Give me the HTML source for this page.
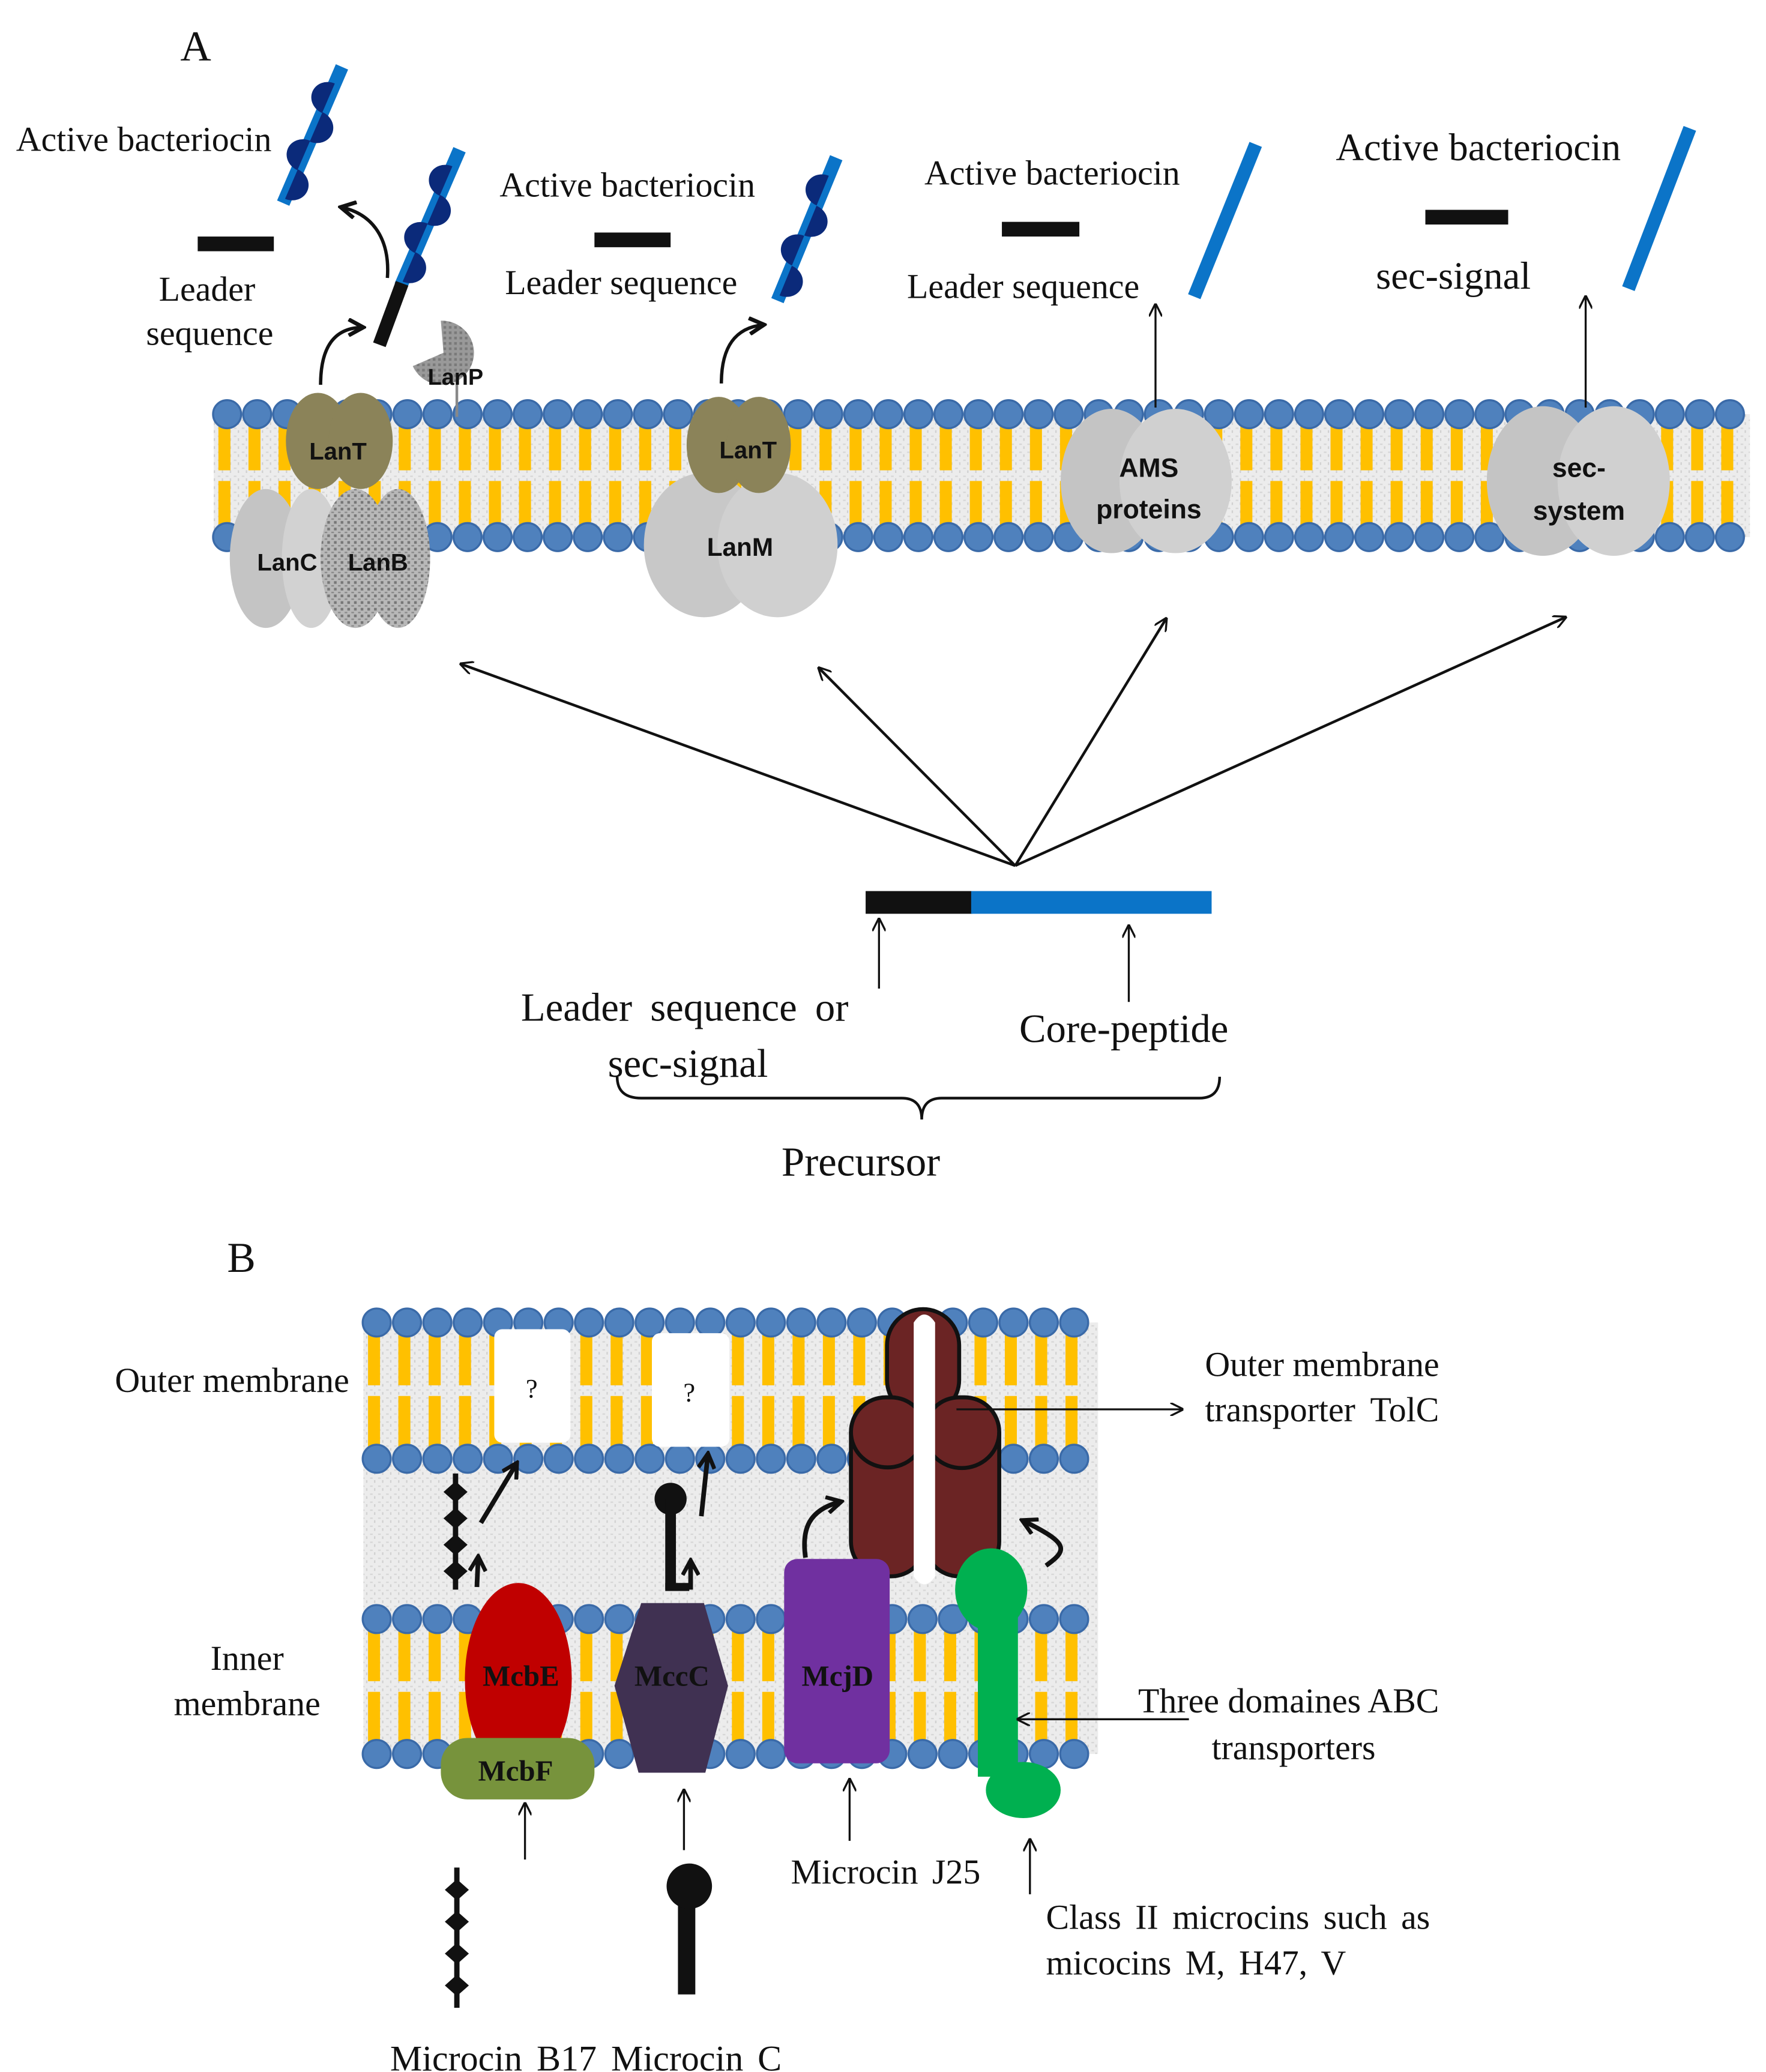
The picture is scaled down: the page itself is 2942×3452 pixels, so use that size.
<!DOCTYPE html>
<html><head><meta charset="utf-8"><style>
html,body{margin:0;padding:0;background:#fff}
svg{display:block}
text{font-family:"Liberation Serif",serif;fill:#111}
.b{font-family:"Liberation Sans",sans-serif;font-weight:bold}
</style></head><body>
<svg id="s" xmlns="http://www.w3.org/2000/svg" width="2942" height="3452" viewBox="0 0 1322 1551">
<defs>
<marker id="ah" markerWidth="10" markerHeight="10" refX="9" refY="5" orient="auto" markerUnits="userSpaceOnUse"><path d="M0,0 L10,5 L0,10" fill="none" stroke="#111" stroke-width="1.5"/></marker>
<marker id="ahb" markerWidth="14" markerHeight="14" refX="12" refY="7" orient="auto" markerUnits="userSpaceOnUse"><path d="M1,1 L12,7 L1,13" fill="none" stroke="#111" stroke-width="3"/></marker>
<pattern id="tex" width="6" height="6" patternUnits="userSpaceOnUse"><rect width="6" height="6" fill="#ececec"/><rect x="1" y="2" width="2" height="1" fill="#d6d6d6"/><rect x="4" y="4" width="1" height="2" fill="#d0d0d0"/></pattern>
<pattern id="lanb" width="5" height="5" patternUnits="userSpaceOnUse"><rect width="5" height="5" fill="#b8b8b8"/><rect x="0" y="0" width="2" height="2" fill="#777"/><rect x="3" y="3" width="2" height="1" fill="#888"/></pattern>
<pattern id="lanp" width="4" height="4" patternUnits="userSpaceOnUse"><rect width="4" height="4" fill="#999"/><rect width="2" height="2" fill="#7a7a7a"/></pattern>
</defs>
<g id="mem"></g>

<!-- Panel A -->
<text x="135" y="45" font-size="32">A</text>
<text x="12" y="113" font-size="26">Active bacteriocin</text>
<rect x="148" y="177" width="57" height="11" fill="#111"/>
<text x="155" y="225" font-size="26" text-anchor="middle">Leader</text>
<text x="157" y="258" font-size="26" text-anchor="middle">sequence</text>
<text x="374" y="147" font-size="26">Active bacteriocin</text>
<rect x="445" y="174" width="57" height="11" fill="#111"/>
<text x="378" y="220" font-size="26">Leader sequence</text>
<text x="692" y="138" font-size="26">Active bacteriocin</text>
<rect x="750" y="166" width="58" height="11" fill="#111"/>
<text x="679" y="223" font-size="26">Leader sequence</text>
<text x="1000" y="120" font-size="29">Active bacteriocin</text>
<rect x="1067" y="157" width="62" height="11" fill="#111"/>
<text x="1030" y="216" font-size="29">sec-signal</text>
<line x1="894" y1="222" x2="940" y2="108" stroke="#0b74c8" stroke-width="10"/>
<line x1="1219" y1="216" x2="1265" y2="96" stroke="#0b74c8" stroke-width="10"/>
<g id="sticks"></g>
<path d="M290,208 C292,180 280,160 255,155" fill="none" stroke="#111" stroke-width="2.5" marker-end="url(#ahb)"/>
<path d="M240,288 C240,260 250,245 272,245" fill="none" stroke="#111" stroke-width="2.5" marker-end="url(#ahb)"/>
<path d="M540,287 C540,260 550,245 572,243" fill="none" stroke="#111" stroke-width="2.5" marker-end="url(#ahb)"/>
<line x1="865" y1="305" x2="865" y2="228" stroke="#111" stroke-width="1.5" marker-end="url(#ah)"/>
<line x1="1187" y1="305" x2="1187" y2="222" stroke="#111" stroke-width="1.5" marker-end="url(#ah)"/>
<!-- LanP -->
<line x1="342" y1="285" x2="342" y2="312" stroke="#888" stroke-width="2"/>
<path d="M332,264 L330,240 A24,24 0 1 1 309,274 Z" fill="url(#lanp)"/>
<text x="341" y="288" font-size="17" class="b" text-anchor="middle">LanP</text>
<!-- LanT/LanC/LanB -->
<ellipse cx="199" cy="418" rx="27" ry="52" fill="#c4c4c4"/>
<ellipse cx="233" cy="418" rx="22" ry="52" fill="#d2d2d2"/>
<ellipse cx="266" cy="418" rx="26" ry="52" fill="url(#lanb)"/>
<ellipse cx="298" cy="418" rx="24" ry="52" fill="url(#lanb)"/>
<ellipse cx="238" cy="330" rx="24" ry="36" fill="#8b8359"/>
<ellipse cx="270" cy="330" rx="24" ry="36" fill="#8b8359"/>
<text x="253" y="344" font-size="18" class="b" text-anchor="middle">LanT</text>
<text x="215" y="427" font-size="18" class="b" text-anchor="middle">LanC</text>
<text x="283" y="427" font-size="18" class="b" text-anchor="middle">LanB</text>
<!-- LanM -->
<ellipse cx="527" cy="408" rx="45" ry="54" fill="#c8c8c8"/>
<ellipse cx="582" cy="408" rx="45" ry="54" fill="#d0d0d0"/>
<ellipse cx="538" cy="333" rx="24" ry="36" fill="#8b8359"/>
<ellipse cx="568" cy="333" rx="24" ry="36" fill="#8b8359"/>
<text x="560" y="343" font-size="18" class="b" text-anchor="middle">LanT</text>
<text x="554" y="416" font-size="19" class="b" text-anchor="middle">LanM</text>
<!-- AMS -->
<ellipse cx="832" cy="360" rx="38" ry="54" fill="#c4c4c4"/>
<ellipse cx="880" cy="360" rx="42" ry="54" fill="#d0d0d0"/>
<text x="860" y="357" font-size="20" class="b" text-anchor="middle">AMS</text>
<text x="860" y="388" font-size="20" class="b" text-anchor="middle">proteins</text>
<!-- sec -->
<ellipse cx="1155" cy="360" rx="42" ry="56" fill="#c4c4c4"/>
<ellipse cx="1208" cy="360" rx="42" ry="56" fill="#d0d0d0"/>
<text x="1182" y="357" font-size="20" class="b" text-anchor="middle">sec-</text>
<text x="1182" y="389" font-size="20" class="b" text-anchor="middle">system</text>
<!-- fan arrows -->
<g stroke="#111" stroke-width="2" marker-end="url(#ah)">
<line x1="760" y1="648" x2="345" y2="497"/>
<line x1="760" y1="648" x2="613" y2="500"/>
<line x1="760" y1="648" x2="873" y2="463"/>
<line x1="760" y1="648" x2="1172" y2="462"/>
<line x1="658" y1="740" x2="658" y2="688" stroke-width="1.5"/>
<line x1="845" y1="750" x2="845" y2="693" stroke-width="1.5"/>
</g>
<rect x="648" y="667" width="80" height="17" fill="#111"/>
<rect x="727" y="667" width="180" height="17" fill="#0b74c8"/>
<text x="390" y="764" font-size="30" word-spacing="6">Leader sequence or</text>
<text x="455" y="806" font-size="30">sec-signal</text>
<text x="763" y="780" font-size="30">Core-peptide</text>
<path d="M462,806 Q462,822 480,822 L675,822 Q690,822 690,838 Q690,822 705,822 L898,822 Q913,822 913,806" fill="none" stroke="#111" stroke-width="2"/>
<text x="585" y="880" font-size="31">Precursor</text>

<!-- Panel B -->
<text x="170" y="952" font-size="32">B</text>
<text x="86" y="1042" font-size="26">Outer membrane</text>
<text x="185" y="1250" font-size="26" text-anchor="middle">Inner</text>
<text x="185" y="1284" font-size="26" text-anchor="middle">membrane</text>
<text x="902" y="1030" font-size="26">Outer membrane</text>
<text x="902" y="1064" font-size="26" word-spacing="5">transporter TolC</text>
<text x="852" y="1282" font-size="26">Three domaines ABC</text>
<text x="907" y="1317" font-size="26">transporters</text>
<text x="592" y="1410" font-size="26" word-spacing="4">Microcin J25</text>
<text x="783" y="1444" font-size="26" word-spacing="4">Class II microcins such as</text>
<text x="783" y="1478" font-size="26" word-spacing="4">micocins M, H47, V</text>
<text x="292" y="1550" font-size="27" word-spacing="4">Microcin B17 Microcin C</text>
<rect x="370" y="995" width="57" height="85" rx="6" fill="#fff"/>
<rect x="488" y="998" width="58" height="85" rx="6" fill="#fff"/>
<text x="398" y="1046" font-size="20" text-anchor="middle">?</text>
<text x="516" y="1049" font-size="20" text-anchor="middle">?</text>
<!-- TolC -->
<g stroke="#111" stroke-width="3" fill="#6b2424">
<rect x="664" y="980" width="54" height="80" rx="27"/>
<rect x="637" y="1046" width="56" height="134" rx="26"/>
<rect x="692" y="1046" width="56" height="134" rx="26"/>
<path d="M637,1072 A27,26 0 0 0 692,1072 M692,1072 A27,26 0 0 0 748,1072" fill="none"/>
</g>
<path d="M684,990 Q692,978 700,990 L700,1180 Q692,1192 684,1180 Z" fill="#fff"/>
<line x1="716" y1="1055" x2="885" y2="1055" stroke="#111" stroke-width="1.5" marker-end="url(#ah)"/>
<!-- McbE/F -->
<ellipse cx="388" cy="1257" rx="40" ry="72" fill="#c00000"/>
<rect x="330" y="1301" width="115" height="46" rx="20" fill="#77933c"/>
<text x="390" y="1262" font-size="22" font-weight="bold" text-anchor="middle">McbE</text>
<text x="386" y="1333" font-size="22" font-weight="bold" text-anchor="middle">McbF</text>
<polygon points="480,1200 527,1200 545,1262 528,1327 478,1327 460,1262" fill="#403152"/>
<text x="503" y="1262" font-size="22" font-weight="bold" text-anchor="middle">MccC</text>
<rect x="587" y="1167" width="79" height="153" rx="10" fill="#7030a0"/>
<text x="627" y="1262" font-size="22" font-weight="bold" text-anchor="middle">McjD</text>
<!-- green ABC -->
<g fill="#00b050">
<ellipse cx="742" cy="1190" rx="27" ry="31"/>
<rect x="732" y="1200" width="30" height="130"/>
<ellipse cx="766" cy="1340" rx="28" ry="21"/>
</g>
<line x1="890" y1="1287" x2="762" y2="1287" stroke="#111" stroke-width="1.5" marker-end="url(#ah)"/>
<g id="mols"></g>
<circle cx="502" cy="1122" r="12" fill="#111"/>
<line x1="502" y1="1122" x2="502" y2="1190" stroke="#111" stroke-width="8"/>
<line x1="498" y1="1188" x2="516" y2="1188" stroke="#111" stroke-width="6"/>
<line x1="514" y1="1493" x2="514" y2="1410" stroke="#111" stroke-width="13"/>
<circle cx="516" cy="1412" r="17" fill="#111"/>
<g stroke="#111" stroke-width="3.5" fill="none" marker-end="url(#ahb)">
<line x1="360" y1="1140" x2="387" y2="1095"/>
<line x1="357" y1="1188" x2="358" y2="1165"/>
<line x1="525" y1="1135" x2="530" y2="1088"/>
<line x1="517" y1="1190" x2="517" y2="1168"/>
<path d="M603,1166 C600,1145 605,1130 630,1124"/>
<path d="M783,1172 C800,1160 800,1155 765,1138"/>
</g>
<g stroke="#111" stroke-width="1.5" marker-end="url(#ah)">
<line x1="393" y1="1392" x2="393" y2="1350"/>
<line x1="512" y1="1385" x2="512" y2="1340"/>
<line x1="636" y1="1378" x2="636" y2="1332"/>
<line x1="771" y1="1418" x2="771" y2="1377"/>
</g>
</svg>
<script>
var NS="http://www.w3.org/2000/svg";
function el(p,t,a){var e=document.createElementNS(NS,t);for(var k in a)e.setAttribute(k,a[k]);p.appendChild(e);return e;}
var mem=document.getElementById('mem');
function membrane(x1,x2,yt,yb,step){
  el(mem,'rect',{x:x1,y:yt,width:x2-x1,height:yb-yt,fill:'url(#tex)'});
  var mid=(yt+yb)/2;
  for(var x=x1+8;x<x2-4;x+=step){
    el(mem,'rect',{x:x-4.5,y:yt+8,width:9,height:mid-yt-12,fill:'#ffc000'});
    el(mem,'rect',{x:x-4.5,y:mid+4,width:9,height:yb-mid-12,fill:'#ffc000'});
  }
  for(var x=x1+10;x<x2;x+=step){
    el(mem,'circle',{cx:x,cy:yt,r:10.5,fill:'#4f81bd',stroke:'#3a6aa8','stroke-width':1.5});
    el(mem,'circle',{cx:x,cy:yb,r:10.5,fill:'#4f81bd',stroke:'#3a6aa8','stroke-width':1.5});
  }
}
membrane(160,1310,310,402,22.5);
el(mem,'rect',{x:272,y:1092,width:550,height:120,fill:'url(#tex)'});
membrane(272,822,990,1092,22.7);
membrane(272,822,1212,1313,22.7);
var st=document.getElementById('sticks');
function stick(x1,y1,x2,y2){
  el(st,'line',{x1:x1,y1:y1,x2:x2,y2:y2,stroke:'#0b74c8','stroke-width':10});
  var dx=x2-x1,dy=y2-y1;
  var ang=Math.atan2(dy,dx)*180/Math.PI;
  for(var i=0;i<4;i++){
    var t=0.14+i*0.21;var cx=x1+dx*t,cy=y1+dy*t;
    var side=(i%2==0)?1:-1;
    var g=el(st,'g',{transform:'translate('+cx+','+cy+') rotate('+ang+')'});
    el(g,'path',{d:'M-12,0 A12,'+(13)+' 0 0 '+(side>0?0:1)+' 12,0 Z',fill:'#0b2a7a'});
  }
}
stick(212,152,256,50);
stick(300,214,344,112);
el(st,'line',{x1:301,y1:212,x2:284,y2:258,stroke:'#111','stroke-width':10});
stick(582,225,626,118);
var mo=document.getElementById('mols');
function chain(x,y1,y2,n){
  el(mo,'line',{x1:x,y1:y1,x2:x,y2:y2,stroke:'#111','stroke-width':4});
  for(var i=0;i<n;i++){var y=y1+(y2-y1)*(i+0.7)/(n+0.4);
    el(mo,'polygon',{points:(x-9)+','+y+' '+x+','+(y-8)+' '+(x+9)+','+y+' '+x+','+(y+8),fill:'#111'});}
}
chain(341,1103,1190,4);
chain(342,1398,1503,4);
</script>
</body></html>
